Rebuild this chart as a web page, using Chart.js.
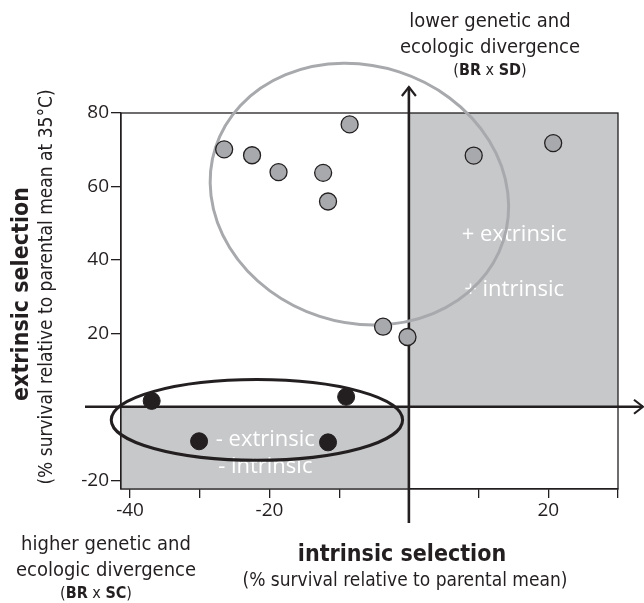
<!DOCTYPE html>
<html lang="en">
<head>
<meta charset="UTF-8">
<title>Extrinsic vs intrinsic selection</title>
<script src="https://cdn.jsdelivr.net/npm/chart.js"></script>
<style>
  html, body { margin: 0; padding: 0; background: #fff; }
</style>
</head>
<body>
<canvas id="chart" width="644" height="603"></canvas>
<script>
  // crosses with lower divergence (BR x SD), grey dots
  const grayX = [-26.5, -22.5, -18.7, -12.3, -11.6, -8.5, -3.7, -0.2, 9.3, 20.7];
  const grayY = [70.1, 68.5, 63.9, 63.7, 55.9, 76.9, 21.8, 19.0, 68.4, 71.8];
  // crosses with higher divergence (BR x SC), black dots
  const blackX = [-36.9, -9.0, -30.1, -11.6];
  const blackY = [1.6, 2.7, -9.4, -9.7];

  const xTicks = [-40, -30, -20, -10, 0, 10, 20, 30];
  const xTickLabels = ["-40", "", "-20", "", "", "", "20", ""];
  const yTicks = [-20, 20, 40, 60, 80];
  const yTickLabels = ["-20", "20", "40", "60", "80"];
  const xRange = [-41.3, 30];
  const yRange = [-22.4, 80];

  const INK = "#231f20";
  const SHADE = "#c7c8ca";
  const TICK_FONT = "'Open Sans', 'Noto Sans', sans-serif";
  const LABEL_FONT = "'DejaVu Sans Condensed', 'DejaVu Sans', sans-serif";

  // text drawn in pieces so that bold and normal can be mixed on one line
  function drawRuns(ctx, runs, cx, cy, size) {
    let total = 0;
    runs.forEach(r => {
      ctx.font = (r[1] ? "bold " : "") + size + "px " + LABEL_FONT;
      total += ctx.measureText(r[0]).width;
    });
    let x = cx - total / 2;
    ctx.textAlign = "left";
    runs.forEach(r => {
      ctx.font = (r[1] ? "bold " : "") + size + "px " + LABEL_FONT;
      ctx.fillText(r[0], x, cy);
      x += ctx.measureText(r[0]).width;
    });
  }

  function ellipse(ctx, sx, sy, e, color) {
    const cx = sx.getPixelForValue(e.cx);
    const cy = sy.getPixelForValue(e.cy);
    const rx = Math.abs(sx.getPixelForValue(e.cx + e.rx) - cx);
    const ry = Math.abs(sy.getPixelForValue(e.cy + e.ry) - cy);
    ctx.beginPath();
    ctx.ellipse(cx, cy, rx, ry, e.rot * Math.PI / 180, 0, Math.PI * 2);
    ctx.strokeStyle = color;
    ctx.lineWidth = 3;
    ctx.stroke();
  }

  const decor = {
    id: "decor",
    beforeDatasetsDraw(chart) {
      const { ctx, chartArea: a, scales: { x, y } } = chart;
      ctx.save();

      // shaded quadrants
      ctx.fillStyle = SHADE;
      const boxes = [[0, xRange[1], 0, yRange[1]], [xRange[0], 0, yRange[0], 0]];
      boxes.forEach(b => {
        const x0 = x.getPixelForValue(b[0]), x1 = x.getPixelForValue(b[1]);
        const y0 = y.getPixelForValue(b[3]), y1 = y.getPixelForValue(b[2]);
        ctx.fillRect(x0, y0, x1 - x0, y1 - y0);
      });

      // frame
      ctx.strokeStyle = INK;
      ctx.lineWidth = 1.3;
      ctx.strokeRect(a.left, a.top, a.right - a.left, a.bottom - a.top);

      // quadrant captions
      ctx.fillStyle = "#ffffff";
      ctx.font = "22px " + TICK_FONT;
      ctx.textAlign = "center";
      ctx.textBaseline = "middle";
      [["+ extrinsic", 15.1, 46.8], ["+ intrinsic", 15.1, 31.8],
       ["- extrinsic", -20.6, -9.1], ["- intrinsic", -20.6, -16.2]].forEach(t => {
        ctx.fillText(t[0], x.getPixelForValue(t[1]), y.getPixelForValue(t[2]));
      });

      // crossing axes with arrow heads
      const x0 = x.getPixelForValue(0), y0 = y.getPixelForValue(0);
      ctx.strokeStyle = INK;
      ctx.lineWidth = 2.6;
      ctx.lineCap = "butt";
      ctx.beginPath();
      ctx.moveTo(x0, a.bottom + 34);
      ctx.lineTo(x0, a.top - 26);
      ctx.moveTo(a.left - 36, y0);
      ctx.lineTo(chart.width - 1, y0);
      ctx.stroke();
      ctx.lineWidth = 2.2;
      ctx.beginPath();
      ctx.moveTo(x0 - 7, a.top - 17);
      ctx.lineTo(x0, a.top - 26);
      ctx.lineTo(x0 + 7, a.top - 17);
      ctx.moveTo(chart.width - 10, y0 - 7);
      ctx.lineTo(chart.width - 1, y0);
      ctx.lineTo(chart.width - 10, y0 + 7);
      ctx.stroke();

      // groupings
      ellipse(ctx, x, y, { cx: -7.1, cy: 57.9, rx: 21.7, ry: 35, rot: 18 }, "#a7a9ac");
      ellipse(ctx, x, y, { cx: -21.8, cy: -3.6, rx: 20.9, ry: 11.0, rot: 0 }, INK);

      ctx.restore();
    },
    afterDraw(chart) {
      const ctx = chart.ctx;
      ctx.save();
      ctx.fillStyle = INK;
      ctx.textBaseline = "middle";

      drawRuns(ctx, [["lower genetic and", false]], 490, 22, 20);
      drawRuns(ctx, [["ecologic divergence", false]], 490, 48, 20);
      drawRuns(ctx, [["(", false], ["BR", true], [" x ", false], ["SD", true], [")", false]], 490, 71, 16);

      drawRuns(ctx, [["higher genetic and", false]], 106, 545, 20);
      drawRuns(ctx, [["ecologic divergence", false]], 106, 571, 20);
      drawRuns(ctx, [["(", false], ["BR", true], [" x ", false], ["SC", true], [")", false]], 96, 594, 16);

      drawRuns(ctx, [["intrinsic selection", true]], 402, 555, 23);
      drawRuns(ctx, [["(% survival relative to parental mean)", false]], 405, 581, 19);

      ctx.translate(22, 0);
      ctx.rotate(-Math.PI / 2);
      drawRuns(ctx, [["extrinsic selection", true]], -294, 0, 23);
      drawRuns(ctx, [["(% survival relative to parental mean at 35\u00B0C)", false]], -287, 25, 19);
      ctx.restore();
    }
  };

  const pts = (xs, ys) => xs.map((v, i) => ({ x: v, y: ys[i] }));

  new Chart(document.getElementById("chart"), {
    type: "scatter",
    data: {
      datasets: [
        {
          label: "BR x SD",
          data: pts(grayX, grayY),
          backgroundColor: "#a7a9ac",
          borderColor: INK,
          borderWidth: 1.3,
          pointRadius: 8.5
        },
        {
          label: "BR x SC",
          data: pts(blackX, blackY),
          backgroundColor: INK,
          borderColor: INK,
          borderWidth: 1,
          pointRadius: 8.5
        }
      ]
    },
    options: {
      responsive: false,
      devicePixelRatio: 1,
      animation: false,
      layout: { padding: { top: 113, right: 26, left: 0, bottom: 0 } },
      plugins: { legend: { display: false }, tooltip: { enabled: false } },
      scales: {
        x: {
          type: "linear",
          min: xRange[0],
          max: xRange[1],
          afterBuildTicks: s => { s.ticks = xTicks.map(v => ({ value: v })); },
          afterFit: s => { s.height = 114; },
          ticks: {
            autoSkip: false,
            maxRotation: 0,
            padding: 1,
            color: INK,
            font: { family: TICK_FONT, size: 19 },
            callback: v => xTickLabels[xTicks.indexOf(v)]
          },
          grid: { drawOnChartArea: false, tickLength: 9, color: INK, lineWidth: 1.3 },
          border: { color: INK, width: 1.3 }
        },
        y: {
          type: "linear",
          min: yRange[0],
          max: yRange[1],
          afterBuildTicks: s => { s.ticks = yTicks.map(v => ({ value: v })); },
          afterFit: s => { s.width = 121; },
          ticks: {
            autoSkip: false,
            padding: 2,
            color: INK,
            font: { family: TICK_FONT, size: 19 },
            callback: v => yTickLabels[yTicks.indexOf(v)]
          },
          grid: { drawOnChartArea: false, tickLength: 10, color: INK, lineWidth: 1.3 },
          border: { color: INK, width: 1.3 }
        }
      }
    },
    plugins: [decor]
  });
</script>
</body>
</html>
